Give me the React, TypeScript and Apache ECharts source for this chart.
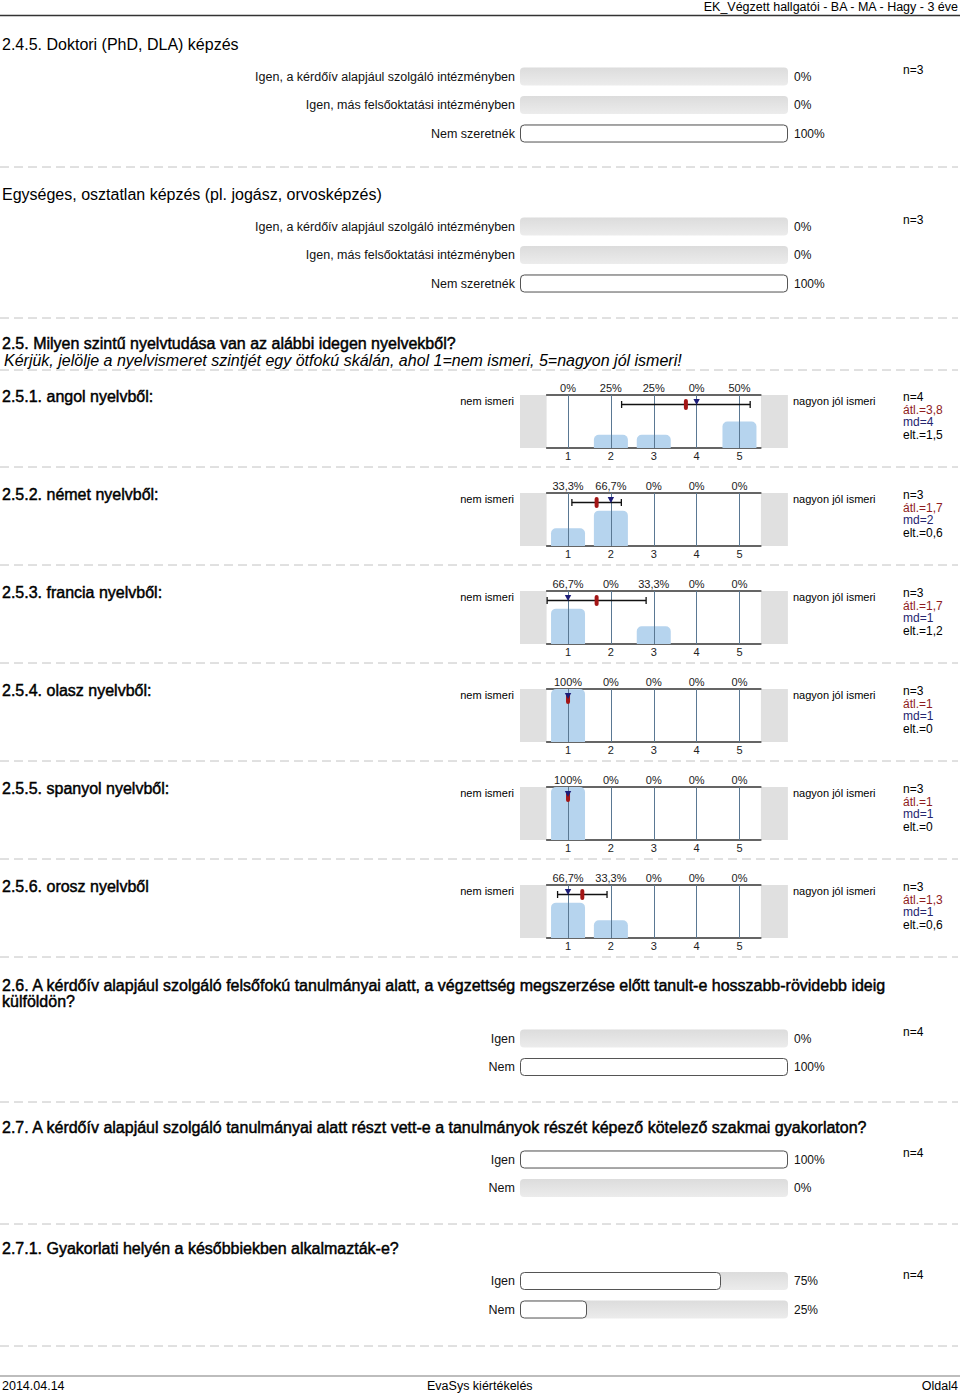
import React, { useEffect, useRef } from 'react';
import * as echarts from 'echarts';

const FONT = "'Liberation Sans', Arial, Helvetica, sans-serif";

// ---- texts ----
const headerText = 'EK_Végzett hallgatói - BA - MA - Hagy - 3 éve';
const footerDate = '2014.04.14';
const footerCenter = 'EvaSys kiértékelés';
const footerPage = 'Oldal4';

// ---- horizontal percentage questions ----
const studyLabels = [
  'Igen, a kérdőív alapjául szolgáló intézményben',
  'Igen, más felsőoktatási intézményben',
  'Nem szeretnék',
];
const phdValues = [0, 0, 100];
const phdN = 3;
const unifiedValues = [0, 0, 100];
const unifiedN = 3;

const yesNoLabels = ['Igen', 'Nem'];
const abroadValues = [0, 100];
const abroadN = 4;
const practiceValues = [100, 0];
const practiceN = 4;
const appliedValues = [75, 25];
const appliedN = 4;

// ---- language scale questions ----
const scaleTicks = ['1', '2', '3', '4', '5'];
const langTitles = [
  '2.5.1. angol nyelvből:',
  '2.5.2. német nyelvből:',
  '2.5.3. francia nyelvből:',
  '2.5.4. olasz nyelvből:',
  '2.5.5. spanyol nyelvből:',
  '2.5.6. orosz nyelvből',
];
const angolPct = [0, 25, 25, 0, 50];
const nemetPct = [33.3, 66.7, 0, 0, 0];
const franciaPct = [66.7, 0, 33.3, 0, 0];
const olaszPct = [100, 0, 0, 0, 0];
const spanyolPct = [100, 0, 0, 0, 0];
const oroszPct = [66.7, 33.3, 0, 0, 0];
const langPct = [angolPct, nemetPct, franciaPct, olaszPct, spanyolPct, oroszPct];
const langN = [4, 3, 3, 3, 3, 3];
const langMean = [3.75, 1.667, 1.667, 1, 1, 1.333];
const langMedian = [4, 2, 1, 1, 1, 1];
const langSd = [1.5, 0.577, 1.155, 0, 0, 0.577];

const fmtNum = (v: number) => {
  const r = Math.round(v * 10) / 10;
  return Number.isInteger(r) ? String(r) : r.toFixed(1).replace('.', ',');
};
const pctText = (v: number) => fmtNum(v) + '%';

function txt(x: number, y: number, text: string, o: any = {}) {
  const color = o.color || '#000';
  const style: any = {
    text,
    fill: color,
    fontSize: o.size || 12,
    fontFamily: FONT,
    fontWeight: 'normal',
    fontStyle: o.italic ? 'italic' : 'normal',
    textAlign: o.align || 'left',
    textVerticalAlign: 'middle',
    align: o.align || 'left',
    verticalAlign: 'middle',
  };
  if (o.bold) {
    style.stroke = color;
    style.lineWidth = 0.45;
  }
  return { type: 'text', x, y, silent: true, z: 10, style };
}

function dashed(y: number) {
  return {
    type: 'line',
    silent: true,
    shape: { x1: 0, y1: y, x2: 958, y2: y },
    style: { stroke: '#c2c2c2', lineWidth: 1, lineDash: [9, 5] },
  };
}

function buildOption() {
  const grids: any[] = [];
  const xAxes: any[] = [];
  const yAxes: any[] = [];
  const series: any[] = [];
  const graphics: any[] = [];

  const bgGrad = new echarts.graphic.LinearGradient(0, 0, 0, 1, [
    { offset: 0, color: '#dcdcdc' },
    { offset: 1, color: '#ececec' },
  ]);

  const rowH = 28.5;
  function barGroup(labels: string[], values: number[], cy: number, n: number) {
    const gi = grids.length;
    grids.push({
      left: 520,
      width: 268,
      top: cy - rowH / 2,
      height: rowH * labels.length,
      containLabel: false,
      outerBoundsMode: 'none',
    });
    const xi = xAxes.length;
    xAxes.push({ type: 'value', gridIndex: gi, min: 0, max: 100, show: false });
    const yi = yAxes.length;
    yAxes.push({
      type: 'category',
      gridIndex: gi,
      data: labels,
      inverse: true,
      position: 'left',
      axisLine: { show: false },
      axisTick: { show: false },
      splitLine: { show: false },
      axisLabel: { fontSize: 12.5, color: '#111', margin: 5, fontFamily: FONT },
    });
    yAxes.push({
      type: 'category',
      gridIndex: gi,
      data: labels,
      inverse: true,
      position: 'right',
      axisLine: { show: false },
      axisTick: { show: false },
      splitLine: { show: false },
      axisLabel: {
        fontSize: 12,
        color: '#111',
        margin: 6,
        fontFamily: FONT,
        formatter: (_v: string, i: number) => pctText(values[i]),
      },
    });
    series.push({
      type: 'bar',
      xAxisIndex: xi,
      yAxisIndex: yi,
      barWidth: 18,
      silent: true,
      showBackground: true,
      backgroundStyle: { color: bgGrad, borderRadius: 4 },
      itemStyle: { color: '#fff', borderColor: '#555', borderWidth: 1, borderRadius: 4 },
      data: values.map((v) => (v > 0 ? v : { value: v, itemStyle: { borderWidth: 0 } })),
    });
    graphics.push(txt(903, cy - 6.5, 'n=' + n, { size: 12 }));
  }

  // header
  graphics.push(txt(958, 6.5, headerText, { size: 12.5, align: 'right' }));
  graphics.push({
    type: 'line',
    silent: true,
    shape: { x1: 0, y1: 15.5, x2: 960, y2: 15.5 },
    style: { stroke: '#333', lineWidth: 1.5 },
  });

  // 2.4.5
  graphics.push(txt(2, 44, '2.4.5. Doktori (PhD, DLA) képzés', { size: 16 }));
  barGroup(studyLabels, phdValues, 76.5, phdN);
  graphics.push(dashed(167));

  graphics.push(txt(2, 194, 'Egységes, osztatlan képzés (pl. jogász, orvosképzés)', { size: 16 }));
  barGroup(studyLabels, unifiedValues, 226.5, unifiedN);
  graphics.push(dashed(318));

  // 2.5
  graphics.push(txt(2, 343, '2.5. Milyen szintű nyelvtudása van az alábbi idegen nyelvekből?', { size: 16, bold: true }));
  graphics.push(
    txt(4, 360, 'Kérjük, jelölje a nyelvismeret szintjét egy ötfokú skálán, ahol 1=nem ismeri, 5=nagyon jól ismeri!', {
      size: 16,
      italic: true,
    })
  );
  graphics.push(dashed(370));

  langTitles.forEach((title, k) => {
    const T = 395 + 98 * k;
    const pct = langPct[k];
    graphics.push(txt(2, T + 1, title, { size: 16, bold: true }));
    graphics.push(txt(514, T + 6, 'nem ismeri', { size: 11, align: 'right' }));
    graphics.push(txt(793, T + 6, 'nagyon jól ismeri', { size: 11 }));
    graphics.push({ type: 'rect', silent: true, shape: { x: 520, y: T, width: 26.6, height: 53 }, style: { fill: '#e0e0e0' } });
    graphics.push({ type: 'rect', silent: true, shape: { x: 760.9, y: T, width: 27, height: 53 }, style: { fill: '#e0e0e0' } });
    graphics.push(txt(903, T + 2, 'n=' + langN[k], { size: 12 }));
    graphics.push(txt(903, T + 14.5, 'átl.=' + fmtNum(langMean[k]), { size: 12, color: '#8e1c1c' }));
    graphics.push(txt(903, T + 27, 'md=' + fmtNum(langMedian[k]), { size: 12, color: '#25256f' }));
    graphics.push(txt(903, T + 39.5, 'elt.=' + fmtNum(langSd[k]), { size: 12 }));
    graphics.push(dashed(T + 72));

    const gi = grids.length;
    grids.push({
      left: 546.6,
      width: 214.3,
      top: T,
      height: 53,
      containLabel: false,
      outerBoundsMode: 'none',
    });
    const xb = xAxes.length;
    const axisLine = { show: true, lineStyle: { color: '#333', width: 1.5 } };
    xAxes.push({
      type: 'category',
      gridIndex: gi,
      data: scaleTicks,
      position: 'bottom',
      axisLine,
      axisTick: { show: false },
      splitLine: { show: false },
      axisLabel: { fontSize: 11, color: '#222', margin: 2, fontFamily: FONT },
    });
    xAxes.push({
      type: 'category',
      gridIndex: gi,
      data: scaleTicks,
      position: 'top',
      axisLine,
      axisTick: { show: false },
      splitLine: { show: false },
      axisLabel: {
        fontSize: 11,
        color: '#222',
        margin: 2,
        fontFamily: FONT,
        formatter: (_v: string, i: number) => pctText(pct[i]),
      },
    });
    xAxes.push({ type: 'value', gridIndex: gi, min: 0.5, max: 5.5, show: false });
    const yi = yAxes.length;
    yAxes.push({ type: 'value', gridIndex: gi, min: 0, max: 100, show: false });

    series.push({
      type: 'bar',
      xAxisIndex: xb,
      yAxisIndex: yi,
      barWidth: 34,
      silent: true,
      itemStyle: { color: '#b6d4ee', borderRadius: [5, 5, 0, 0] },
      data: pct,
      markLine: {
        silent: true,
        symbol: ['none', 'none'],
        label: { show: false },
        lineStyle: { color: '#5a7893', width: 1, type: 'solid' },
        data: scaleTicks.map((_t, i) => ({ xAxis: i })),
      },
    });
    series.push({
      type: 'custom',
      xAxisIndex: xb + 2,
      yAxisIndex: yi,
      z: 5,
      silent: true,
      data: [[langMean[k], langSd[k], langMedian[k]]],
      renderItem: (_params: any, api: any) => {
        const mean = api.value(0);
        const sd = api.value(1);
        const med = api.value(2);
        const top = api.coord([mean, 100])[1];
        const y = top + 9.5;
        const xm = api.coord([mean, 0])[0];
        const xl = api.coord([mean - sd, 0])[0];
        const xr = api.coord([mean + sd, 0])[0];
        const xmed = api.coord([med, 0])[0];
        const children: any[] = [];
        if (sd > 0) {
          const ls = { stroke: '#111', lineWidth: 1.3 };
          children.push({ type: 'line', shape: { x1: xl, y1: y, x2: xr, y2: y }, style: ls });
          children.push({ type: 'line', shape: { x1: xl, y1: y - 3.5, x2: xl, y2: y + 3.5 }, style: ls });
          children.push({ type: 'line', shape: { x1: xr, y1: y - 3.5, x2: xr, y2: y + 3.5 }, style: ls });
        }
        children.push({
          type: 'rect',
          shape: { x: xm - 2, y: y - 5.5, width: 4, height: 11, r: 2 },
          style: { fill: '#a31515' },
        });
        children.push({
          type: 'polygon',
          shape: { points: [[xmed - 3.2, top + 4], [xmed + 3.2, top + 4], [xmed, top + 10]] },
          style: { fill: '#1c1c78' },
        });
        return { type: 'group', children };
      },
    });
  });

  // 2.6
  graphics.push(
    txt(
      2,
      985,
      '2.6. A kérdőív alapjául szolgáló felsőfokú tanulmányai alatt, a végzettség megszerzése előtt tanult-e hosszabb-rövidebb ideig',
      { size: 16, bold: true }
    )
  );
  graphics.push(txt(2, 1001, 'külföldön?', { size: 16, bold: true }));
  barGroup(yesNoLabels, abroadValues, 1038.5, abroadN);
  graphics.push(dashed(1102));

  // 2.7
  graphics.push(
    txt(2, 1127, '2.7. A kérdőív alapjául szolgáló tanulmányai alatt részt vett-e a tanulmányok részét képező kötelező szakmai gyakorlaton?', {
      size: 16,
      bold: true,
    })
  );
  barGroup(yesNoLabels, practiceValues, 1159.5, practiceN);
  graphics.push(dashed(1224));

  // 2.7.1
  graphics.push(txt(2, 1248, '2.7.1. Gyakorlati helyén a későbbiekben alkalmazták-e?', { size: 16, bold: true }));
  barGroup(yesNoLabels, appliedValues, 1281, appliedN);
  graphics.push(dashed(1346));

  // footer
  graphics.push({
    type: 'line',
    silent: true,
    shape: { x1: 0, y1: 1376, x2: 960, y2: 1376 },
    style: { stroke: '#bdbdbd', lineWidth: 2 },
  });
  graphics.push(txt(2, 1386, footerDate, { size: 12.5 }));
  graphics.push(txt(427, 1386, footerCenter, { size: 12.5 }));
  graphics.push(txt(958, 1386, footerPage, { size: 12.5, align: 'right' }));

  return {
    animation: false,
    backgroundColor: '#fff',
    textStyle: { fontFamily: FONT },
    grid: grids,
    xAxis: xAxes,
    yAxis: yAxes,
    series,
    graphic: { elements: graphics },
  };
}

export default function App() {
  const ref = useRef<HTMLDivElement>(null);
  useEffect(() => {
    document.body.style.margin = '0';
    const chart = echarts.init(ref.current as HTMLDivElement, null, {
      renderer: 'svg',
      width: 960,
      height: 1395,
    });
    chart.setOption(buildOption() as any);
    return () => chart.dispose();
  }, []);
  return <div ref={ref} style={{ width: 960, height: 1395 }} />;
}
